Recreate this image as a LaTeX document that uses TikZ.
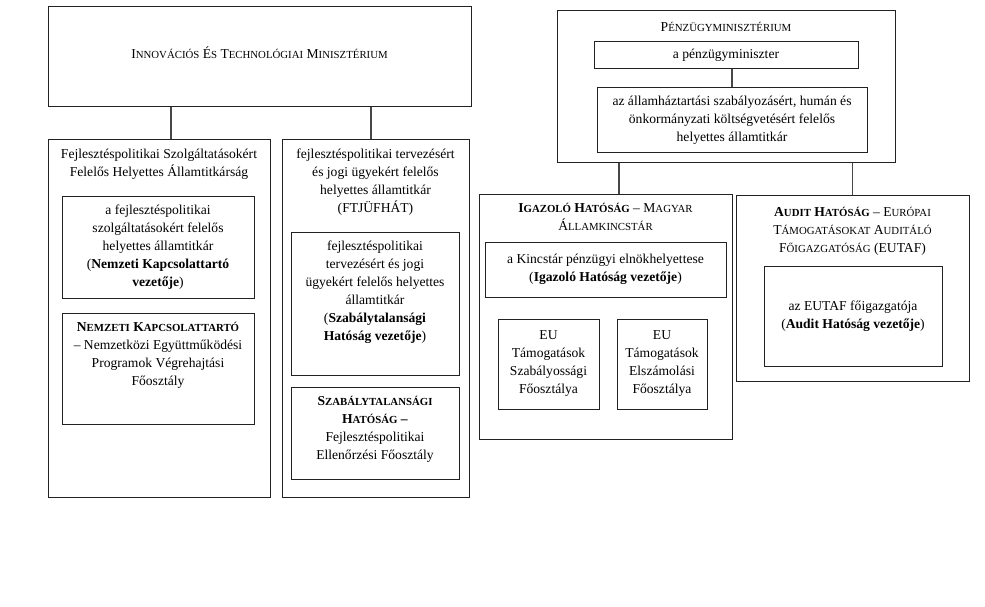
\documentclass[tikz,border=0pt]{standalone}
\usepackage{fontspec}
\setmainfont{Liberation Serif}
\usetikzlibrary{positioning, calc}
\definecolor{boxline}{HTML}{222222}
\definecolor{linkgray}{HTML}{474747}
\newcommand{\scsz}{\fontsize{10.8}{18}\selectfont}
\newcommand{\fsc}[2]{#1{\scsz #2}}
\newcommand{\topstrut}{\rule{0pt}{11pt}}
\tikzset{
  conn/.style={line width=1.2pt, linkgray},
  orgbox/.style={rectangle, draw=boxline, line width=1pt, inner sep=0pt},
  unitbox/.style={rectangle, draw=boxline, line width=1pt, align=center, inner sep=0pt},
  toptext/.style={anchor=north, align=center, inner sep=0pt, execute at begin node=\topstrut, yshift=-9.5pt},
}

\begin{document}
\begin{tikzpicture}[x=1pt, y=-1pt, font=\fontsize{13.6}{18}\selectfont]
  \useasboundingbox (0,0) rectangle (985,607);

  % Innovációs és Technológiai Minisztérium
  \node[orgbox, minimum width=423, minimum height=100] (ITM) at (259.5,57) {};
  \node[inner sep=0pt, yshift=4pt] (ITMt) at (ITM.center) {\fsc{I}{NNOVÁCIÓS} \fsc{É}{S} \fsc{T}{ECHNOLÓGIAI} \fsc{M}{INISZTÉRIUM}};

  % left column
  \node[orgbox, minimum width=222, minimum height=357] (L) at (159,318.5) {};
  \node[toptext] (Lh) at (L.north) {Fejlesztéspolitikai Szolgáltatásokért\\Felelős Helyettes Államtitkárság};
  \node[unitbox, minimum width=192, minimum height=102] (L1) at (158,247) {a fejlesztéspolitikai\\szolgáltatásokért felelős\\helyettes államtitkár\\(\textbf{Nemzeti Kapcsolattartó}\\\textbf{vezetője})};
  \node[orgbox, minimum width=192, minimum height=111] (L2) at (158,368.5) {};
  \node[toptext] (L2t) at (L2.north) {\textbf{\fsc{N}{EMZETI} \fsc{K}{APCSOLATTARTÓ}}\\– Nemzetközi Együttműködési\\Programok Végrehajtási\\Főosztály};

  % right column
  \node[orgbox, minimum width=187, minimum height=357] (R) at (375.5,318.5) {};
  \node[toptext] (Rh) at (R.north) {fejlesztéspolitikai tervezésért\\és jogi ügyekért felelős\\helyettes államtitkár\\(FTJÜFHÁT)};
  \node[orgbox, minimum width=168, minimum height=143] (R1) at (375,303.5) {};
  \node[toptext] (R1t) at (R1.north) {fejlesztéspolitikai\\tervezésért és jogi\\ügyekért felelős helyettes\\államtitkár\\(\textbf{Szabálytalansági}\\\textbf{Hatóság vezetője})};
  \node[orgbox, minimum width=168, minimum height=92] (R2) at (375,433) {};
  \node[toptext] (R2t) at (R2.north) {\textbf{\fsc{S}{ZABÁLYTALANSÁGI}}\\\textbf{\fsc{H}{ATÓSÁG} –}\\Fejlesztéspolitikai\\Ellenőrzési Főosztály};

  \draw[conn] ([xshift=12pt]L.north) -- ([xshift=12pt]L.north |- ITM.south);
  \draw[conn] ([xshift=-4.5pt]R.north) -- ([xshift=-4.5pt]R.north |- ITM.south);

  % Pénzügyminisztérium
  \node[orgbox, minimum width=338, minimum height=151] (PM) at (726,86.5) {};
  \node[toptext] (PMh) at (PM.north) {\fsc{P}{ÉNZÜGYMINISZTÉRIUM}};
  \node[unitbox, minimum width=264, minimum height=27] (PM1) at (726,55.5) {a pénzügyminiszter};
  \node[unitbox, minimum width=270, minimum height=65] (PM2) at (732,120.5) {az államháztartási szabályozásért, humán és\\önkormányzati költségvetésért felelős\\helyettes államtitkár};
  \draw[conn] (PM2.north) -- (PM2.north |- PM1.south);

  % Igazoló Hatóság
  \node[orgbox, minimum width=253, minimum height=245] (IH) at (605.5,316.5) {};
  \node[toptext] (IHh) at (IH.north) {\textbf{\fsc{I}{GAZOLÓ} \fsc{H}{ATÓSÁG}} – \fsc{M}{AGYAR}\\\fsc{Á}{LLAMKINCSTÁR}};
  \node[unitbox, minimum width=241, minimum height=55] (IH1) at (605.5,269.5) {a Kincstár pénzügyi elnökhelyettese\\(\textbf{Igazoló Hatóság vezetője})};
  \node[unitbox, minimum width=101, minimum height=90] (EU1) at (548.5,364) {EU\\Támogatások\\Szabályossági\\Főosztálya};
  \node[unitbox, minimum width=90, minimum height=90] (EU2) at (662,364) {EU\\Támogatások\\Elszámolási\\Főosztálya};

  % Audit Hatóság
  \node[orgbox, minimum width=233, minimum height=186] (AH) at (852.5,288) {};
  \node[toptext, yshift=-3pt] (AHh) at (AH.north) {\textbf{\fsc{A}{UDIT} \fsc{H}{ATÓSÁG}} – \fsc{E}{URÓPAI}\\\fsc{T}{ÁMOGATÁSOKAT} \fsc{A}{UDITÁLÓ}\\\fsc{F}{ŐIGAZGATÓSÁG} (EUTAF)};
  \node[unitbox, minimum width=178, minimum height=100] (AH1) at (853,316) {az EUTAF főigazgatója\\(\textbf{Audit Hatóság vezetője})};

  \draw[conn] ([xshift=13.5pt]IH.north) -- ([xshift=13.5pt]IH.north |- PM.south);
  \draw[conn] (AH.north) -- (AH.north |- PM.south);
\end{tikzpicture}
\end{document}
